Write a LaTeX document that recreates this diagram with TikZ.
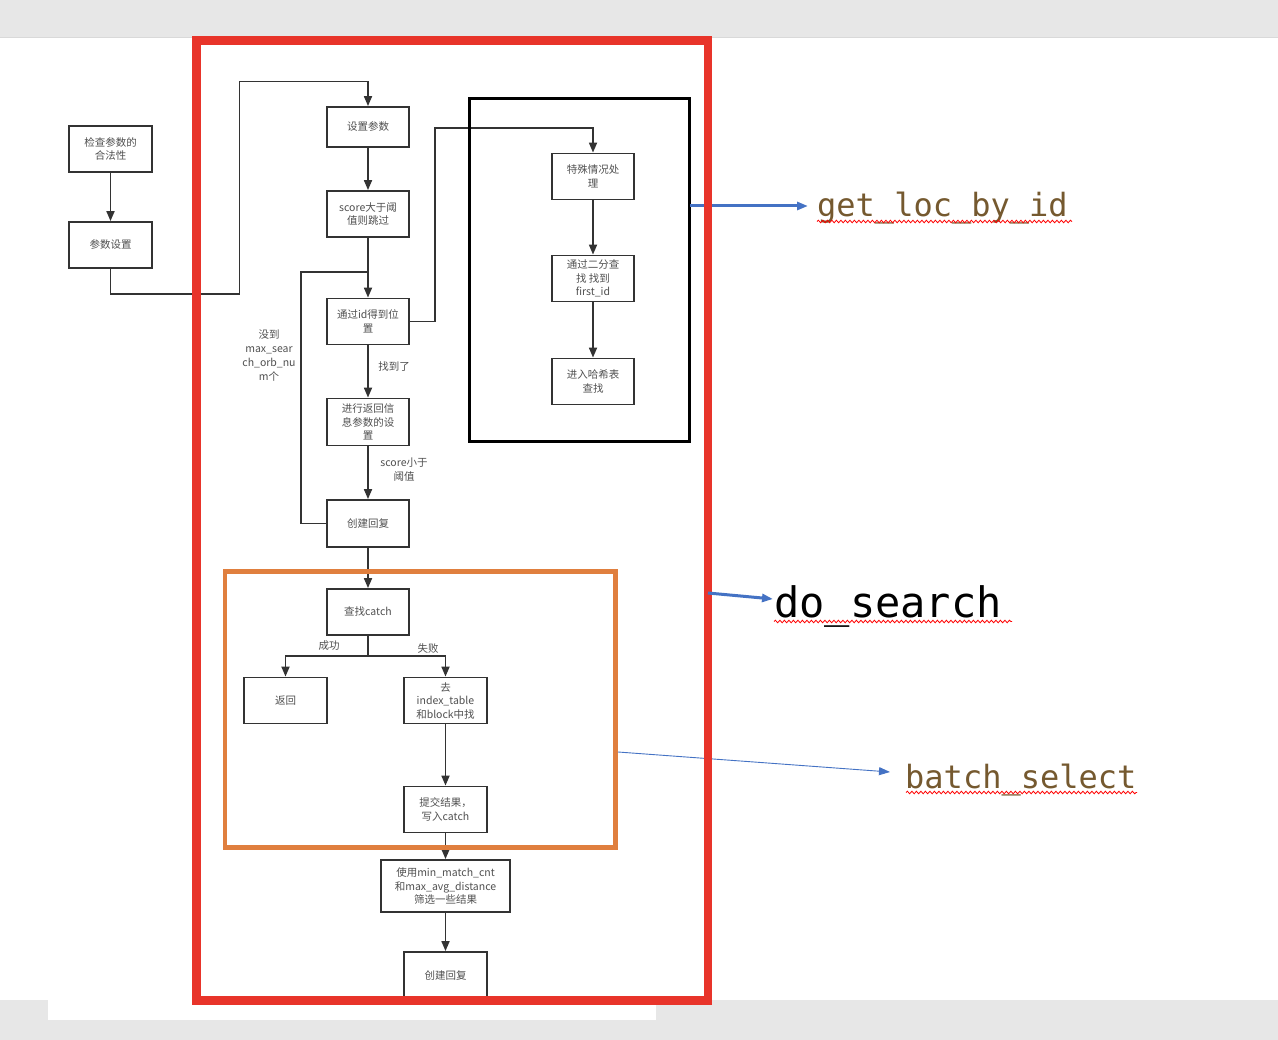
\documentclass[tikz,border=0pt]{standalone}
\usepackage{fontspec}
\setmainfont{Noto Sans CJK SC}
\newfontfamily\monofont{DejaVu Sans Mono}
\usetikzlibrary{arrows.meta,decorations.pathmorphing}
\definecolor{ln}{HTML}{333333}
\definecolor{txt}{HTML}{505050}
\definecolor{redbox}{HTML}{E8342A}
\definecolor{orangebox}{HTML}{E07F3E}
\definecolor{bluearr}{HTML}{4472C4}
\definecolor{codebrown}{HTML}{75592F}
\definecolor{bgray}{HTML}{E7E7E7}
\tikzset{
  box/.style={draw=ln, line width=1.8pt, minimum width=82pt, minimum height=46pt, inner sep=1pt,
    align=center, text=txt, font=\fontsize{10.5}{13.5}\selectfont},
  arr/.style={draw=ln, line width=1.7pt, -{Triangle[length=10pt,width=8pt]}},
  plain/.style={draw=ln, line width=1.7pt},
  lbl/.style={text=txt, align=center, inner sep=0pt, font=\fontsize{10.5}{14}\selectfont},
  barr/.style={draw=bluearr, -{Triangle[length=11pt,width=8pt]}},
  squig/.style={draw=red, line width=0.8pt, decorate, decoration={snake, amplitude=1.3pt, segment length=4.5pt}},
  code/.style={anchor=base west, inner sep=0pt}
}
\begin{document}
\begin{tikzpicture}[x=1pt,y=-1pt]
\useasboundingbox (0,0) rectangle (1278,1040);
% background
\fill[bgray] (0,0) rectangle (1278,1040);
\fill[white] (0,38) rectangle (1278,1000);
\fill[white] (48,1000) rectangle (656,1020);
\draw[color=black!15, line width=1pt] (0,37.5) -- (1278,37.5);

% left boxes
\node[box, minimum width=83pt] (a1) at (110.5,149) {检查参数的\\合法性};
\node[box, minimum width=83pt] (a2) at (110.5,245) {参数设置};

% main column
\node[box, minimum height=40pt] (c1) at (368,127) {设置参数};
\node[box] (c2) at (368,214) {score大于阈\\值则跳过};
\node[box] (c3) at (368,321.5) {通过id得到位\\置};
\node[box, minimum height=47pt] (c4) at (368,422) {进行返回信\\息参数的设\\置};
\node[box, minimum height=47pt] (c5) at (368,523.5) {创建回复};

% right column (get_loc_by_id)
\node[box] (s1) at (593,176.5) {特殊情况处\\理};
\node[box] (s2) at (593,278.5) {通过二分查\\找 找到\\first\_id};
\node[box] (s3) at (593,381.5) {进入哈希表\\查找};

% catch part
\node[box] (d1) at (368,612) {查找catch};
\node[box, minimum width=83pt] (d2) at (285.5,700.5) {返回};
\node[box, minimum width=83pt] (d3) at (445.5,700.5) {去\\index\_table\\和block中找};
\node[box, minimum width=83pt] (d4) at (445.5,809.5) {提交结果，\\写入catch};
\node[box, minimum width=129pt, minimum height=52pt] (d5) at (445.5,886) {使用min\_match\_cnt\\和max\_avg\_distance\\筛选一些结果};
\node[box, minimum width=83pt, minimum height=48pt] (d6) at (445.5,976) {创建回复};

% connectors
\draw[arr] (a1) -- (a2);
\draw[arr] (a2.south) |- (239.5,294) |- (368,81.5) -- (c1.north);
\draw[arr] (c1) -- (c2);
\draw[arr] (c2) -- (c3);
\draw[plain] (c5.west) -- (301,523.5) |- (368,272);
\draw[arr] (c3) -- (c4);
\draw[arr] (c4) -- (c5);
\draw[arr] (c3.east) -- (435,321.5) |- (593,128) -- (s1.north);
\draw[arr] (s1) -- (s2);
\draw[arr] (s2) -- (s3);
\draw[arr] (c5) -- (d1);
\draw[plain] (d1.south) -- (368,656);
\draw[arr] (368,656) -| (d2.north);
\draw[arr] (368,656) -| (d3.north);
\draw[arr] (d3) -- (d4);
\draw[arr] (d4) -- (d5);
\draw[arr] (d5) -- (d6);

% edge labels
\node[lbl] (l1) at (269,356) {没到\\max\_sear\\ch\_orb\_nu\\m个};
\node[lbl] (l2) at (394,367) {找到了};
\node[lbl] (l3) at (404,470) {score小于\\阈值};
\node[lbl] (l4) at (329,646) {成功};
\node[lbl] (l5) at (428,649) {失败};

% frames
\draw[black, line width=3pt] (469.5,98.5) rectangle (689.5,442);
\draw[orangebox, line width=4.5pt] (225,571.5) rectangle (615.5,847.5);

% blue arrows and function names
\coordinate (g0) at (690,206);
\coordinate (g1) at (808,206);
\draw[barr, line width=3pt] (g0) -- (g1);
\node[code, text=codebrown, font=\monofont\fontsize{32}{32}\selectfont] (gname) at (817,217) {get\_loc\_by\_id};
\draw[squig] (817,221.5) -- (1072,221.5);

\coordinate (b0) at (618,752);
\coordinate (b1) at (890,772);
\draw[barr, line width=0.9pt] (b0) -- (b1);
\node[code, text=codebrown, font=\monofont\fontsize{32}{32}\selectfont] (bname) at (905,788) {batch\_select};
\draw[squig] (906,792.5) -- (1137,792.5);

\draw[redbox, line width=8.7pt] (196.3,40.2) rectangle (708,1000.3);

\coordinate (s0) at (708,593);
\coordinate (sE) at (773,599);
\draw[barr, line width=3pt] (s0) -- (sE);
\node[code, text=black, font=\monofont\fontsize{42}{42}\selectfont] (dname) at (774,617) {do\_search};
\draw[squig] (774,621.5) -- (1012,621.5);
\end{tikzpicture}
\end{document}
